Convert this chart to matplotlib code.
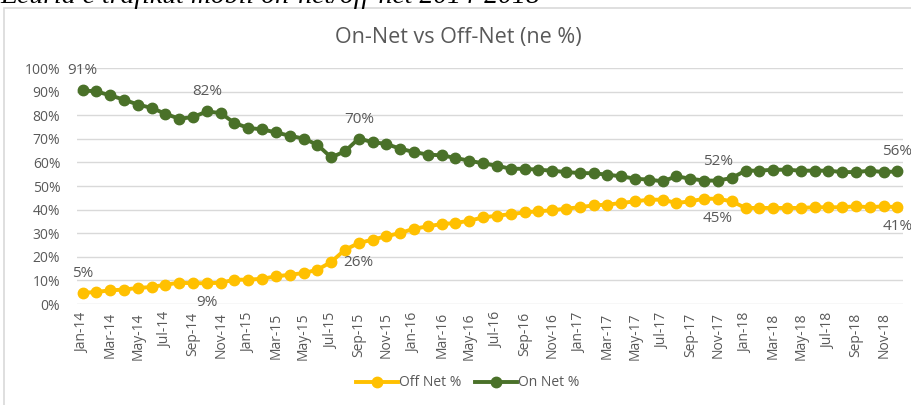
import matplotlib.pyplot as plt
import matplotlib.patches as patches

# monthly data Jan-14 .. Dec-18
months = []
for yr in range(14, 19):
    for m in ['Jan', 'Feb', 'Mar', 'Apr', 'May', 'Jun', 'Jul', 'Aug', 'Sep', 'Oct', 'Nov', 'Dec']:
        months.append('%s-%d' % (m, yr))

off_net = [4.7, 5.1, 5.8, 6.1, 6.8, 7.2, 8.2, 9.0, 8.8, 8.8, 9.0, 10.3,
           10.3, 10.7, 11.7, 12.4, 13.1, 14.5, 17.8, 23.0, 25.8, 27.3, 28.7, 30.1,
           31.9, 32.9, 33.9, 34.3, 35.3, 36.7, 37.4, 38.1, 38.8, 39.3, 39.7, 40.4,
           41.0, 41.8, 42.1, 42.8, 43.5, 44.2, 44.2, 42.8, 43.5, 44.6, 44.6, 43.5,
           40.7, 40.7, 40.7, 40.7, 40.7, 41.0, 41.0, 41.0, 41.4, 41.0, 41.4, 41.0]
on_net = [90.5, 90.1, 88.4, 86.6, 84.5, 83.1, 80.6, 78.5, 79.2, 81.6, 80.9, 76.7,
          74.6, 74.0, 72.7, 71.3, 70.1, 67.5, 62.1, 64.7, 70.1, 68.6, 67.8, 65.8,
          64.4, 63.3, 63.0, 61.9, 60.7, 59.6, 58.6, 57.3, 57.3, 56.9, 56.5, 55.9,
          55.5, 55.4, 54.8, 54.1, 53.1, 52.7, 52.0, 54.1, 53.1, 52.3, 52.3, 53.4,
          56.5, 56.5, 56.9, 56.9, 56.5, 56.5, 56.5, 55.9, 55.9, 56.5, 55.9, 56.2]

# data labels shown on the chart
on_lbl_idx = [0, 9, 20, 46, 59]
on_lbl_txt = ['91%', '82%', '70%', '52%', '56%']
off_lbl_idx = [0, 9, 20, 46, 59]
off_lbl_txt = ['5%', '9%', '26%', '45%', '41%']

off_col = '#FFC000'
on_col = '#4A7129'
txt_col = '#595959'

plt.rcParams['font.family'] = ['Open Sans', 'DejaVu Sans']

fig = plt.figure(figsize=(9.12, 4.05), dpi=100)

# chart frame (cut off at right and bottom in the screenshot)
fig.patches.append(patches.Rectangle((4 / 912, -0.05), 1.2, 1 - 8 / 405 + 0.05,
                                     transform=fig.transFigure, fill=False,
                                     edgecolor='#D9D9D9', lw=1.2))
# caption above the chart, mostly cropped off in the screenshot
fig.text(0.0, 1 - 3 / 405, 'Ecuria e trafikut mobil on-net/off-net 2014-2018',
         family='Liberation Serif', style='italic', fontsize=20, va='baseline', ha='left')

ax = fig.add_axes([77 / 912, 1 - 304 / 405, (903 - 77) / 912, (304 - 68) / 405])
x = list(range(len(months)))
ax.plot(x, off_net, color=off_col, lw=2.8, marker='o', ms=7.5, label='Off Net %')
ax.plot(x, on_net, color=on_col, lw=2.8, marker='o', ms=7.5, label='On Net %')

for i, t in zip(on_lbl_idx, on_lbl_txt):
    ax.annotate(t, (i, on_net[i]), xytext=(0, 14), textcoords='offset points',
                ha='center', va='center', fontsize=11, color=txt_col)
for i, t in zip(off_lbl_idx, off_lbl_txt):
    dy = 14 if i == 0 else -14
    ax.annotate(t, (i, off_net[i]), xytext=(0, dy), textcoords='offset points',
                ha='center', va='center', fontsize=11, color=txt_col)

ax.set_ylim(0, 100)
ax.set_xlim(-0.4, 59.4)
ax.set_yticks(range(0, 101, 10))
ax.set_yticklabels(['%d%%' % v for v in range(0, 101, 10)])
ax.set_xticks(x[::2])
ax.set_xticklabels(months[::2], rotation=90)
ax.tick_params(axis='both', length=0, labelsize=10, colors=txt_col)
ax.tick_params(axis='y', pad=12)
ax.tick_params(axis='x', pad=6)
ax.grid(axis='y', color='#D9D9D9', lw=1)
ax.set_axisbelow(True)
for s in ax.spines.values():
    s.set_visible(False)

fig.text(458 / 912, 1 - 38 / 405, 'On-Net vs Off-Net (ne %)', ha='center', va='center',
         fontsize=15.5, color=txt_col)

fig.legend(loc='center', bbox_to_anchor=(468 / 912, 1 - 383 / 405), ncol=2, frameon=False,
           fontsize=10, handlelength=3.0, columnspacing=1.0, handletextpad=0.1,
           labelcolor=txt_col)

fig.savefig('out.png', dpi=100)
